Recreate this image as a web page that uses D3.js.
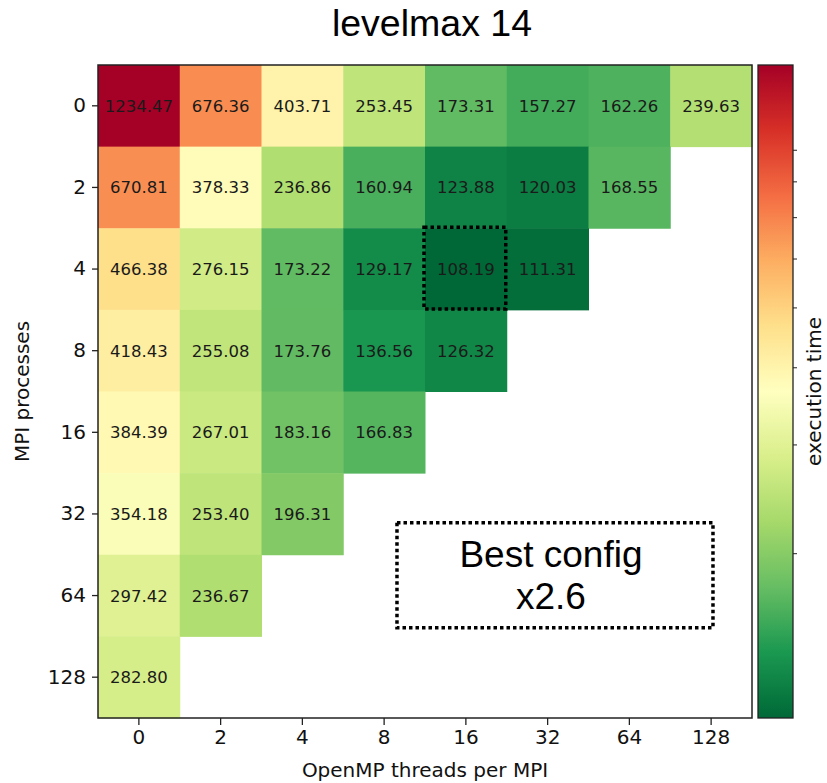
<!DOCTYPE html>
<html><head><meta charset="utf-8">
<script src="https://cdn.jsdelivr.net/npm/d3@7"></script>
<style>body{margin:0;background:#fff}</style>
</head><body><svg id="c" width="827" height="783"></svg>
<script>
// ---------- data ----------
const title = "levelmax 14";
const xLabel = "OpenMP threads per MPI";
const yLabel = "MPI processes";
const cbarLabel = "execution time";
const ompThreads = ["0", "2", "4", "8", "16", "32", "64", "128"];
const mpiProcs = ["0", "2", "4", "8", "16", "32", "64", "128"];
const rowMpi0   = [1234.47, 676.36, 403.71, 253.45, 173.31, 157.27, 162.26, 239.63];
const rowMpi2   = [670.81, 378.33, 236.86, 160.94, 123.88, 120.03, 168.55, null];
const rowMpi4   = [466.38, 276.15, 173.22, 129.17, 108.19, 111.31, null, null];
const rowMpi8   = [418.43, 255.08, 173.76, 136.56, 126.32, null, null, null];
const rowMpi16  = [384.39, 267.01, 183.16, 166.83, null, null, null, null];
const rowMpi32  = [354.18, 253.40, 196.31, null, null, null, null, null];
const rowMpi64  = [297.42, 236.67, null, null, null, null, null, null];
const rowMpi128 = [282.80, null, null, null, null, null, null, null];
const values = [rowMpi0, rowMpi2, rowMpi4, rowMpi8, rowMpi16, rowMpi32, rowMpi64, rowMpi128];
const cbarTicks = [200, 300, 400, 500, 600, 700, 800, 900];
const bestMpi = "4", bestOmp = "16";
const annotationLines = ["Best config", "x2.6"];
// RdYlGn (ColorBrewer) — used reversed
const rdylgn = ["#a50026","#d73027","#f46d43","#fdae61","#fee08b","#ffffbf","#d9ef8b","#a6d96a","#66bd63","#1a9850","#006837"];

// ---------- layout ----------
const L = 98, R = 752, T = 65, B = 718;
const cbX = 758, cbW = 35;
const svg = d3.select("#c");

const cells = [];
values.forEach((row, i) => row.forEach((v, j) => {
  if (v != null) cells.push({mpi: mpiProcs[i], omp: ompThreads[j], v});
}));
const vmin = d3.min(cells, d => d.v), vmax = d3.max(cells, d => d.v);

const x = d3.scaleBand().domain(ompThreads).range([L, R]);
const y = d3.scaleBand().domain(mpiProcs).range([T, B]);
const norm = d3.scaleLog().domain([vmin, vmax]).range([0, 1]).clamp(true);
const cmapR = rdylgn.slice().reverse();
const cmap = d3.scaleLinear().domain(d3.range(11).map(i => i / 10)).range(cmapR).interpolate(d3.interpolateRgb);
const color = v => cmap(norm(v));

// cells
svg.append("g").selectAll("rect").data(cells).join("rect")
  .attr("x", d => x(d.omp)).attr("y", d => y(d.mpi))
  .attr("width", x.bandwidth() + 0.5).attr("height", y.bandwidth() + 0.5)
  .attr("fill", d => color(d.v));

svg.append("g").selectAll("text").data(cells).join("text")
  .attr("x", d => x(d.omp) + x.bandwidth() / 2)
  .attr("y", d => y(d.mpi) + y.bandwidth() / 2)
  .attr("dy", "0.36em")
  .attr("text-anchor", "middle")
  .attr("font-family", "DejaVu Sans")
  .attr("font-size", 16.5)
  .attr("fill", "#1a1a1a")
  .text(d => d.v.toFixed(2));

// best-cell dotted box
svg.append("rect")
  .attr("x", x(bestOmp) - 1).attr("y", y(bestMpi) - 1)
  .attr("width", x.bandwidth()).attr("height", y.bandwidth())
  .attr("fill", "none").attr("stroke", "#000").attr("stroke-width", 3.5)
  .attr("stroke-dasharray", "3.5,3");

// frame
svg.append("rect").attr("x", L).attr("y", T).attr("width", R - L).attr("height", B - T)
  .attr("fill", "none").attr("stroke", "#222").attr("stroke-width", 1.5);

// axes
const ax = svg.append("g").attr("transform", `translate(0,${B})`)
  .call(d3.axisBottom(x).tickSize(7).tickPadding(5));
const ay = svg.append("g").attr("transform", `translate(${L},0)`)
  .call(d3.axisLeft(y).tickSize(6).tickPadding(6));
[ax, ay].forEach(a => {
  a.select(".domain").remove();
  a.selectAll(".tick line").attr("stroke", "#222").attr("stroke-width", 1.3);
  a.selectAll(".tick text").attr("font-family", "DejaVu Sans").attr("font-size", 20).attr("fill", "#111");
});

svg.append("text").attr("x", (L + R) / 2).attr("y", 777)
  .attr("text-anchor", "middle").attr("font-family", "DejaVu Sans").attr("font-size", 20).attr("fill", "#111")
  .text(xLabel);
svg.append("text").attr("transform", `translate(29,${(T + B) / 2}) rotate(-90)`)
  .attr("text-anchor", "middle").attr("font-family", "DejaVu Sans").attr("font-size", 20).attr("fill", "#111")
  .text(yLabel);

// title
svg.append("text").attr("x", 432).attr("y", 36)
  .attr("text-anchor", "middle").attr("font-family", "Liberation Sans").attr("font-size", 37.5).attr("fill", "#000")
  .text(title);

// annotation
const fx = d3.scaleLinear().domain([0, ompThreads.length]).range([L, R]);
const fy = d3.scaleLinear().domain([0, mpiProcs.length]).range([T, B]);
const acx = fx(5.59), acy = fy(6.25);
svg.append("rect").attr("x", acx - 158).attr("y", acy - 52.5).attr("width", 316).attr("height", 105)
  .attr("fill", "#fff").attr("stroke", "#000").attr("stroke-width", 3.5).attr("stroke-dasharray", "3.5,3");
const at = svg.append("text").attr("text-anchor", "middle").attr("font-family", "Liberation Sans")
  .attr("font-size", 37).attr("fill", "#000");
annotationLines.forEach((s, i) => at.append("tspan").attr("x", acx - 4).attr("y", acy - 8.5 + i * 42).text(s));

// colorbar
const cb = d3.scaleLog().domain([vmin, vmax]).range([B, T]);
const defs = svg.append("defs");
const grad = defs.append("linearGradient").attr("id", "cbg").attr("x1", 0).attr("y1", 1).attr("x2", 0).attr("y2", 0);
d3.range(0, 1.0001, 0.02).forEach(t => grad.append("stop").attr("offset", t).attr("stop-color", cmap(t)));
svg.append("rect").attr("x", cbX).attr("y", T).attr("width", cbW).attr("height", B - T)
  .attr("fill", "url(#cbg)").attr("stroke", "#222").attr("stroke-width", 1.3);
const acb = svg.append("g").attr("transform", `translate(${cbX + cbW},0)`)
  .call(d3.axisRight(cb).tickValues(cbarTicks).tickSize(4).tickFormat(""));
acb.select(".domain").remove();
acb.selectAll(".tick line").attr("stroke", "#222").attr("stroke-width", 1);
svg.append("text").attr("transform", `translate(821,${(T + B) / 2}) rotate(-90)`)
  .attr("text-anchor", "middle").attr("font-family", "DejaVu Sans").attr("font-size", 20).attr("fill", "#111")
  .text(cbarLabel);
</script></body></html>
